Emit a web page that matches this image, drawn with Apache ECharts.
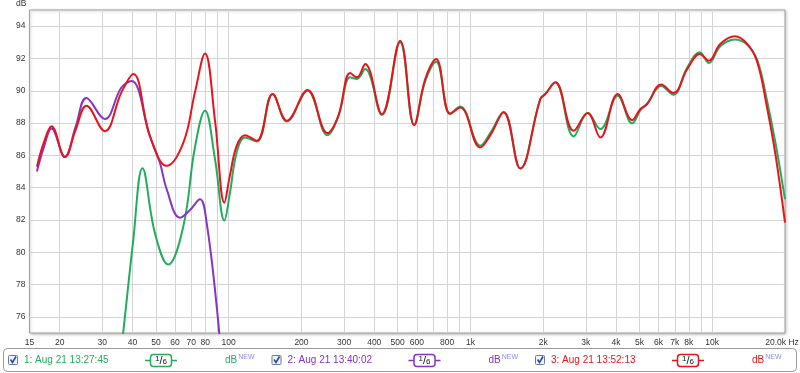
<!DOCTYPE html>
<html><head><meta charset="utf-8">
<script src="https://cdn.jsdelivr.net/npm/echarts@6/dist/echarts.min.js"></script>
<style>html,body{margin:0;padding:0;background:#fff}#c{width:800px;height:373px}</style>
</head><body><div id="c"></div>
<script>
// ---- data ----
const seriesNames = ['1: Aug 21 13:27:45', '2: Aug 21 13:40:02', '3: Aug 21 13:52:13'];
const seriesColors = ['#22ad5c', '#8535c2', '#e8141c'];

const freq1 = [30,33,36.6,40.2,44.0,49.5,56.2,64.9,72.5,79.8,87.7,96,101,108,116.8,130.6,152,174,212,256,284,318,339,367,430,512,585,650,721,824,907,1098,1209,1371,1607,1945,2040,2244,2673,3055,3445,4064,4666,5048,5380,6150,6900,7890,8890,9680,10800,12400,13960,15360,16900,18300,20000];
const db1 = [62,69,75,80.6,85.2,81.2,79.24,81.6,86.5,88.76,85.8,81.97,83.6,86.2,87.1,86.85,89.8,88.1,90.0,87.25,88.4,90.83,90.73,91.35,88.5,93.0,87.9,90.6,91.8,88.6,89.03,86.6,87.4,88.7,85.19,89.49,89.8,90.52,87.17,88.62,87.63,89.69,87.98,88.8,89.2,90.3,89.75,91.45,92.39,91.72,92.75,93.17,92.84,91.9,89.3,86.7,83.28];

const freq2 = [16.1,17.2,18.5,21.0,23.3,25.8,30.7,36.0,39.6,47.2,51.9,55.4,62.9,69,76.1,81.1,89.2,95,100];
const db2 = [85.0,86.5,87.67,85.9,87.8,89.55,88.25,90.2,90.6,87.2,85.56,83.9,82.14,82.6,83.28,81.8,76.65,72,68];

const freq3 = [16.1,17.2,18.5,21.0,23.3,25.8,30.7,36.0,40.3,47.2,55.4,65,72.5,79.8,87.7,96,101,108,116.8,130.6,152,174,212,256,284,318,339,367,430,512,585,650,721,824,907,1098,1209,1371,1607,1945,2040,2244,2673,3055,3445,4064,4666,5048,5380,6150,6900,7890,8890,9680,10800,12400,13960,15360,16900,18300,20000];
const db3 = [85.3,86.8,87.8,85.9,87.6,89.07,87.5,89.9,91.04,87.2,85.35,86.8,89.9,92.3,88.2,83.07,84.7,86.6,87.25,86.9,89.8,88.14,90.05,87.38,88.45,91.1,90.83,91.66,88.56,93.1,87.87,90.73,91.97,88.56,88.97,86.49,87.25,88.66,85.19,89.49,89.8,90.52,87.52,88.62,87.11,89.8,88.18,88.87,89.18,90.38,89.86,91.35,92.28,91.86,92.9,93.38,92.9,91.77,88.87,85.97,81.83];

const xGridValues = [20,30,40,50,60,70,80,90,100,200,300,400,500,600,700,800,900,1000,2000,3000,4000,5000,6000,7000,8000,9000,10000];
const xLabelValues = [15,20,30,40,50,60,70,80,100,200,300,400,500,600,800,1000,2000,3000,4000,5000,6000,7000,8000,10000,20000];
const yTickValues = [76,78,80,82,84,86,88,90,92,94];

// ---- chart ----
const chart = echarts.init(document.getElementById('c'), null, {renderer: 'canvas'});
const FONT = 'Liberation Sans, Arial, sans-serif';

function pairs(f, v) { return f.map((x, i) => [x, v[i]]); }
function fmtFreq(v) {
  if (v >= 20000) return '{last|20.0k Hz}';
  if (v >= 1000) return (v / 1000) + 'k';
  return String(v);
}

const lists = [[freq1, db1], [freq2, db2], [freq3, db3]];
const series = lists.map((p, i) => ({
  name: seriesNames[i], type: 'line', data: pairs(p[0], p[1]),
  smooth: 0.4, showSymbol: false, symbol: 'none', clip: true,
  lineStyle: {color: seriesColors[i], width: 2}, itemStyle: {color: seriesColors[i]},
  z: 2 + i
}));

// legend bar built with graphic elements
const graphics = [{
  type: 'rect', shape: {x: 3.5, y: 348.5, width: 793, height: 23, r: 4},
  style: {fill: '#fff', stroke: '#9a9a9a', lineWidth: 1}, z: 1
}];
seriesNames.forEach((name, i) => {
  const dx = i * 263.5;
  const col = seriesColors[i];
  graphics.push({
    type: 'rect', shape: {x: 8.5 + dx, y: 355.5, width: 9, height: 9, r: 1},
    style: {fill: '#f2f4f8', stroke: '#6a7a9a', lineWidth: 1}, z: 2
  });
  graphics.push({
    type: 'polyline', shape: {points: [[10.5 + dx, 359.5], [12.5 + dx, 362.5], [16 + dx, 356.5]]},
    style: {stroke: '#2448b0', lineWidth: 1.6, fill: null}, z: 3
  });
  graphics.push({
    type: 'text', x: 24 + dx, y: 360.5,
    style: {text: name, fill: col, font: '10px ' + FONT, textVerticalAlign: 'middle', textAlign: 'left'}, z: 3
  });
  graphics.push({
    type: 'line', shape: {x1: 145 + dx, y1: 360.5, x2: 177 + dx, y2: 360.5},
    style: {stroke: col, lineWidth: 1.5}, z: 2
  });
  graphics.push({
    type: 'rect', shape: {x: 150.5 + dx, y: 354.5, width: 21, height: 12, r: 3},
    style: {fill: '#fff', stroke: col, lineWidth: 1.5}, z: 3
  });
  graphics.push({
    type: 'text', x: 161 + dx, y: 360.5,
    style: {
      text: '{a|1}{b|/}{c|6}', textAlign: 'center', textVerticalAlign: 'middle',
      rich: {
        a: {fontSize: 8, fontFamily: FONT, fill: '#111', padding: [0, 0, 3, 0]},
        b: {fontSize: 11, fontFamily: FONT, fill: '#111'},
        c: {fontSize: 8, fontFamily: FONT, fill: '#111', padding: [3, 0, 0, 0]}
      }
    }, z: 4
  });
  graphics.push({
    type: 'text', x: 225 + dx, y: 360.5,
    style: {
      text: '{d|dB}{n|NEW}', textAlign: 'left', textVerticalAlign: 'middle',
      rich: {
        d: {fontSize: 10, fontFamily: FONT, fill: col},
        n: {fontSize: 7, fontFamily: FONT, fill: '#8c8cf0', padding: [0, 0, 6, 1]}
      }
    }, z: 4
  });
});

const option = {
  animation: false,
  backgroundColor: '#fff',
  grid: {
    left: 29.5, right: 15, top: 10, bottom: 40, show: true,
    outerBoundsMode: 'none', containLabel: false,
    borderColor: '#a0a0a0', borderWidth: 1, backgroundColor: '#fff',
    shadowColor: 'rgba(0,0,0,0.25)', shadowBlur: 3, shadowOffsetX: 1, shadowOffsetY: 1
  },
  xAxis: {
    type: 'log', logBase: 10, min: 15, max: 20000,
    axisLine: {show: false},
    axisTick: {show: false, customValues: xGridValues},
    splitLine: {show: true, lineStyle: {color: '#d4d4d4', width: 1}},
    minorSplitLine: {show: false},
    axisLabel: {
      customValues: xLabelValues, formatter: fmtFreq, margin: 5,
      color: '#333', fontSize: 8.5, fontFamily: FONT, showMinLabel: true, showMaxLabel: true,
      hideOverlap: false,
      rich: {last: {color: '#333', fontSize: 8.5, fontFamily: FONT, padding: [0, 6, 0, 0]}}
    }
  },
  yAxis: {
    type: 'value', min: 75, max: 95,
    name: 'dB', nameLocation: 'end', nameGap: 6,
    nameTextStyle: {color: '#333', fontSize: 8.5, fontFamily: FONT, align: 'right', verticalAlign: 'middle', padding: [0, 3, 0, 0]},
    axisLine: {show: false},
    axisTick: {show: false, customValues: yTickValues},
    splitLine: {show: true, lineStyle: {color: '#d4d4d4', width: 1}},
    axisLabel: {customValues: yTickValues, margin: 4, color: '#333', fontSize: 8.5, fontFamily: FONT}
  },
  series: series,
  graphic: graphics
};
chart.setOption(option);
</script>
</body></html>
